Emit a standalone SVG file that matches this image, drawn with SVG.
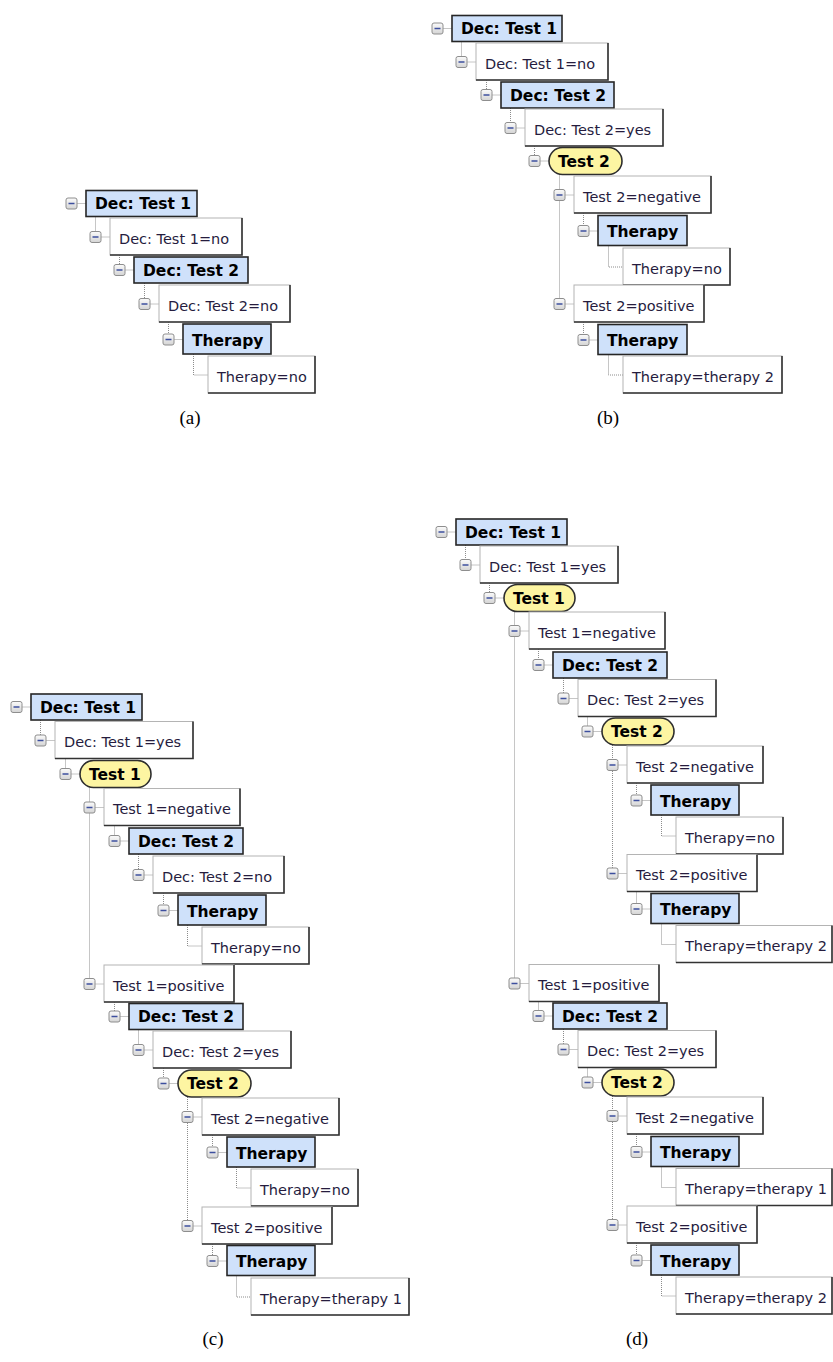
<svg xmlns="http://www.w3.org/2000/svg" xmlns:xlink="http://www.w3.org/1999/xlink" width="833" height="1362" viewBox="0 0 833 1362">
<style>
.b{fill:#cfe1fa;stroke:#262626;stroke-width:1.6}
.e{fill:#fdf5a2;stroke:#2e2e2e;stroke-width:1.6}
.w{fill:#fff;stroke:#b4b4b4;stroke-width:1}
.ws{fill:none;stroke:#333;stroke-width:1.6}
.t{font-family:"DejaVu Sans",sans-serif;font-size:14.5px;fill:#261c3e}
.tb{font-family:"DejaVu Sans",sans-serif;font-size:15.5px;font-weight:bold;fill:#000}
.c{fill:none;stroke:#8c8c8c;stroke-width:1;stroke-dasharray:1 1}
.cap{font-family:"Liberation Serif",serif;font-size:19px;fill:#000;text-anchor:middle}
</style>
<defs>
<linearGradient id="ig" x1="0" y1="0" x2="0" y2="1"><stop offset="0" stop-color="#fbfbfb"/><stop offset="1" stop-color="#d4d4d4"/></linearGradient>
<g id="icon"><rect x="0.5" y="0.5" width="11" height="11" rx="2" fill="url(#ig)" stroke="#8e8e8e" stroke-width="1"/><line x1="3" y1="6" x2="9" y2="6" stroke="#3d4f9e" stroke-width="1.5"/></g>
</defs>
<rect width="833" height="1362" fill="#fff"/>
<g id="connectors">
<path class="c" d="M95.5 216.5V237 M119.5 255V270 M144.5 283V304 M168.5 322V339.5 M193.5 354V375H208 M77.5 203.5H86 M101.5 237H110 M125.5 270H134 M150.5 304H159 M174.5 339.5H183"/>
<path class="c" d="M461.5 41.5V62 M486.5 80V95 M510.5 108V128 M534.5 146V161 M559.5 174.5V304 M583.5 213V231 M608.5 245.5V267H623 M583.5 322V340 M608.5 354.5V375H623 M443.5 28.5H452 M467.5 62H476 M492.5 95H501 M516.5 128H525 M540.5 161H549 M565.5 195H574 M589.5 231H598 M565.5 304H574 M589.5 340H598"/>
<path class="c" d="M40.5 720V740.5 M65.5 758.5V774 M89.5 787.5V984 M114.5 825.5V841 M138.5 854V875 M163.5 893V910.5 M187.5 925V946H202 M114.5 1002V1016.5 M138.5 1029.5V1050 M163.5 1068V1083.5 M187.5 1097V1226 M212.5 1135V1152.5 M236.5 1167V1188H251 M212.5 1244V1261 M236.5 1275.5V1297H251 M22.5 707H31 M46.5 740.5H55 M71.5 774H80 M95.5 807.5H104 M120.5 841H129 M144.5 875H153 M169.5 910.5H178 M95.5 984H104 M120.5 1016.5H129 M144.5 1050H153 M169.5 1083.5H178 M193.5 1117H202 M218.5 1152.5H227 M193.5 1226H202 M218.5 1261H227"/>
<path class="c" d="M465.5 545V565 M489.5 583V598 M514.5 611.5V983.5 M538.5 649V665 M563.5 678V698.5 M587.5 716.5V731.5 M612.5 745V873.5 M636.5 783V800.5 M661.5 815V836H676 M636.5 891.5V909 M661.5 923.5V944.5H676 M538.5 1001.5V1016 M563.5 1029V1049.5 M587.5 1067.5V1082.5 M612.5 1096V1225 M636.5 1134V1152 M661.5 1166.5V1187.5H676 M636.5 1243V1260.5 M661.5 1275V1296H676 M447.5 532H456 M471.5 565H480 M495.5 598H504 M520.5 631H529 M544.5 665H553 M569.5 698.5H578 M593.5 731.5H602 M618.5 765H627 M642.5 800.5H651 M618.5 873.5H627 M642.5 909H651 M520.5 983.5H529 M544.5 1016H553 M569.5 1049.5H578 M593.5 1082.5H602 M618.5 1116H627 M642.5 1152H651 M618.5 1225H627 M642.5 1260.5H651"/>
</g>
<g id="a1"><use xlink:href="#icon" x="65.5" y="197.5"/><rect class="b" x="86" y="190.5" width="111" height="26"/><text class="tb" x="95" y="209">Dec: Test 1</text></g>
<g id="a2"><use xlink:href="#icon" x="89.5" y="231"/><rect class="w" x="110" y="218" width="132" height="37"/><path class="ws" d="M242 218V255H110"/><text class="t" x="119" y="243.5">Dec: Test 1=no</text></g>
<g id="a3"><use xlink:href="#icon" x="113.5" y="264"/><rect class="b" x="134" y="257" width="114" height="26"/><text class="tb" x="143" y="275.5">Dec: Test 2</text></g>
<g id="a4"><use xlink:href="#icon" x="138.5" y="298"/><rect class="w" x="159" y="285" width="131" height="37"/><path class="ws" d="M290 285V322H159"/><text class="t" x="168" y="310.5">Dec: Test 2=no</text></g>
<g id="a5"><use xlink:href="#icon" x="162.5" y="333.5"/><rect class="b" x="183" y="324" width="88" height="30"/><text class="tb" x="192" y="345.5">Therapy</text></g>
<g id="a6"><rect class="w" x="208" y="356" width="107" height="37"/><path class="ws" d="M315 356V393H208"/><text class="t" x="217" y="381.5">Therapy=no</text></g>
<text class="cap" x="190" y="424">(a)</text>
<g id="b1"><use xlink:href="#icon" x="431.5" y="22.5"/><rect class="b" x="452" y="15.5" width="110" height="26"/><text class="tb" x="461" y="34">Dec: Test 1</text></g>
<g id="b2"><use xlink:href="#icon" x="455.5" y="56"/><rect class="w" x="476" y="43" width="132" height="37"/><path class="ws" d="M608 43V80H476"/><text class="t" x="485" y="68.5">Dec: Test 1=no</text></g>
<g id="b3"><use xlink:href="#icon" x="480.5" y="89"/><rect class="b" x="501" y="82" width="113" height="26"/><text class="tb" x="510" y="100.5">Dec: Test 2</text></g>
<g id="b4"><use xlink:href="#icon" x="504.5" y="122"/><rect class="w" x="525" y="109" width="138" height="37"/><path class="ws" d="M663 109V146H525"/><text class="t" x="534" y="134.5">Dec: Test 2=yes</text></g>
<g id="b5"><use xlink:href="#icon" x="528.5" y="155"/><rect class="e" x="549" y="147.5" width="73" height="27" rx="13.5"/><text class="tb" x="558" y="166.5">Test 2</text></g>
<g id="b6"><use xlink:href="#icon" x="553.5" y="189"/><rect class="w" x="574" y="176" width="137" height="37"/><path class="ws" d="M711 176V213H574"/><text class="t" x="583" y="201.5">Test 2=negative</text></g>
<g id="b7"><use xlink:href="#icon" x="577.5" y="225"/><rect class="b" x="598" y="215.5" width="89" height="30"/><text class="tb" x="607" y="237">Therapy</text></g>
<g id="b8"><rect class="w" x="623" y="248" width="107" height="37"/><path class="ws" d="M730 248V285H623"/><text class="t" x="632" y="273.5">Therapy=no</text></g>
<g id="b9"><use xlink:href="#icon" x="553.5" y="298"/><rect class="w" x="574" y="285" width="130" height="37"/><path class="ws" d="M704 285V322H574"/><text class="t" x="583" y="310.5">Test 2=positive</text></g>
<g id="b10"><use xlink:href="#icon" x="577.5" y="334"/><rect class="b" x="598" y="324.5" width="89" height="30"/><text class="tb" x="607" y="346">Therapy</text></g>
<g id="b11"><rect class="w" x="623" y="356" width="159" height="37"/><path class="ws" d="M782 356V393H623"/><text class="t" x="632" y="381.5">Therapy=therapy 2</text></g>
<text class="cap" x="608" y="424">(b)</text>
<g id="c1"><use xlink:href="#icon" x="10.5" y="701"/><rect class="b" x="31" y="694" width="111" height="26"/><text class="tb" x="40" y="712.5">Dec: Test 1</text></g>
<g id="c2"><use xlink:href="#icon" x="34.5" y="734.5"/><rect class="w" x="55" y="721.5" width="138" height="37"/><path class="ws" d="M193 721.5V758.5H55"/><text class="t" x="64" y="747">Dec: Test 1=yes</text></g>
<g id="c3"><use xlink:href="#icon" x="59.5" y="768"/><rect class="e" x="80" y="760.5" width="71" height="27" rx="13.5"/><text class="tb" x="89" y="779.5">Test 1</text></g>
<g id="c4"><use xlink:href="#icon" x="83.5" y="801.5"/><rect class="w" x="104" y="788.5" width="136" height="37"/><path class="ws" d="M240 788.5V825.5H104"/><text class="t" x="113" y="814">Test 1=negative</text></g>
<g id="c5"><use xlink:href="#icon" x="108.5" y="835"/><rect class="b" x="129" y="828" width="114" height="26"/><text class="tb" x="138" y="846.5">Dec: Test 2</text></g>
<g id="c6"><use xlink:href="#icon" x="132.5" y="869"/><rect class="w" x="153" y="856" width="131" height="37"/><path class="ws" d="M284 856V893H153"/><text class="t" x="162" y="881.5">Dec: Test 2=no</text></g>
<g id="c7"><use xlink:href="#icon" x="157.5" y="904.5"/><rect class="b" x="178" y="895" width="88" height="30"/><text class="tb" x="187" y="916.5">Therapy</text></g>
<g id="c8"><rect class="w" x="202" y="927" width="107" height="37"/><path class="ws" d="M309 927V964H202"/><text class="t" x="211" y="952.5">Therapy=no</text></g>
<g id="c9"><use xlink:href="#icon" x="83.5" y="978"/><rect class="w" x="104" y="965" width="130" height="37"/><path class="ws" d="M234 965V1002H104"/><text class="t" x="113" y="990.5">Test 1=positive</text></g>
<g id="c10"><use xlink:href="#icon" x="108.5" y="1010.5"/><rect class="b" x="129" y="1003.5" width="114" height="26"/><text class="tb" x="138" y="1022">Dec: Test 2</text></g>
<g id="c11"><use xlink:href="#icon" x="132.5" y="1044"/><rect class="w" x="153" y="1031" width="138" height="37"/><path class="ws" d="M291 1031V1068H153"/><text class="t" x="162" y="1056.5">Dec: Test 2=yes</text></g>
<g id="c12"><use xlink:href="#icon" x="157.5" y="1077.5"/><rect class="e" x="178" y="1070" width="73" height="27" rx="13.5"/><text class="tb" x="187" y="1089">Test 2</text></g>
<g id="c13"><use xlink:href="#icon" x="181.5" y="1111"/><rect class="w" x="202" y="1098" width="137" height="37"/><path class="ws" d="M339 1098V1135H202"/><text class="t" x="211" y="1123.5">Test 2=negative</text></g>
<g id="c14"><use xlink:href="#icon" x="206.5" y="1146.5"/><rect class="b" x="227" y="1137" width="88" height="30"/><text class="tb" x="236" y="1158.5">Therapy</text></g>
<g id="c15"><rect class="w" x="251" y="1169" width="107" height="37"/><path class="ws" d="M358 1169V1206H251"/><text class="t" x="260" y="1194.5">Therapy=no</text></g>
<g id="c16"><use xlink:href="#icon" x="181.5" y="1220"/><rect class="w" x="202" y="1207" width="130" height="37"/><path class="ws" d="M332 1207V1244H202"/><text class="t" x="211" y="1232.5">Test 2=positive</text></g>
<g id="c17"><use xlink:href="#icon" x="206.5" y="1255"/><rect class="b" x="227" y="1245.5" width="88" height="30"/><text class="tb" x="236" y="1267">Therapy</text></g>
<g id="c18"><rect class="w" x="251" y="1278" width="158" height="37"/><path class="ws" d="M409 1278V1315H251"/><text class="t" x="260" y="1303.5">Therapy=therapy 1</text></g>
<text class="cap" x="213" y="1345">(c)</text>
<g id="d1"><use xlink:href="#icon" x="435.5" y="526"/><rect class="b" x="456" y="519" width="111" height="26"/><text class="tb" x="465" y="537.5">Dec: Test 1</text></g>
<g id="d2"><use xlink:href="#icon" x="459.5" y="559"/><rect class="w" x="480" y="546" width="138" height="37"/><path class="ws" d="M618 546V583H480"/><text class="t" x="489" y="571.5">Dec: Test 1=yes</text></g>
<g id="d3"><use xlink:href="#icon" x="483.5" y="592"/><rect class="e" x="504" y="584.5" width="71" height="27" rx="13.5"/><text class="tb" x="513" y="603.5">Test 1</text></g>
<g id="d4"><use xlink:href="#icon" x="508.5" y="625"/><rect class="w" x="529" y="612" width="136" height="37"/><path class="ws" d="M665 612V649H529"/><text class="t" x="538" y="637.5">Test 1=negative</text></g>
<g id="d5"><use xlink:href="#icon" x="532.5" y="659"/><rect class="b" x="553" y="652" width="114" height="26"/><text class="tb" x="562" y="670.5">Dec: Test 2</text></g>
<g id="d6"><use xlink:href="#icon" x="557.5" y="692.5"/><rect class="w" x="578" y="679.5" width="138" height="37"/><path class="ws" d="M716 679.5V716.5H578"/><text class="t" x="587" y="705">Dec: Test 2=yes</text></g>
<g id="d7"><use xlink:href="#icon" x="581.5" y="725.5"/><rect class="e" x="602" y="718" width="72" height="27" rx="13.5"/><text class="tb" x="611" y="737">Test 2</text></g>
<g id="d8"><use xlink:href="#icon" x="606.5" y="759"/><rect class="w" x="627" y="746" width="136" height="37"/><path class="ws" d="M763 746V783H627"/><text class="t" x="636" y="771.5">Test 2=negative</text></g>
<g id="d9"><use xlink:href="#icon" x="630.5" y="794.5"/><rect class="b" x="651" y="785" width="88" height="30"/><text class="tb" x="660" y="806.5">Therapy</text></g>
<g id="d10"><rect class="w" x="676" y="817" width="107" height="37"/><path class="ws" d="M783 817V854H676"/><text class="t" x="685" y="842.5">Therapy=no</text></g>
<g id="d11"><use xlink:href="#icon" x="606.5" y="867.5"/><rect class="w" x="627" y="854.5" width="130" height="37"/><path class="ws" d="M757 854.5V891.5H627"/><text class="t" x="636" y="880">Test 2=positive</text></g>
<g id="d12"><use xlink:href="#icon" x="630.5" y="903"/><rect class="b" x="651" y="893.5" width="88" height="30"/><text class="tb" x="660" y="915">Therapy</text></g>
<g id="d13"><rect class="w" x="676" y="925.5" width="156" height="37"/><path class="ws" d="M832 925.5V962.5H676"/><text class="t" x="685" y="951">Therapy=therapy 2</text></g>
<g id="d14"><use xlink:href="#icon" x="508.5" y="977.5"/><rect class="w" x="529" y="964.5" width="130" height="37"/><path class="ws" d="M659 964.5V1001.5H529"/><text class="t" x="538" y="990">Test 1=positive</text></g>
<g id="d15"><use xlink:href="#icon" x="532.5" y="1010"/><rect class="b" x="553" y="1003" width="114" height="26"/><text class="tb" x="562" y="1021.5">Dec: Test 2</text></g>
<g id="d16"><use xlink:href="#icon" x="557.5" y="1043.5"/><rect class="w" x="578" y="1030.5" width="138" height="37"/><path class="ws" d="M716 1030.5V1067.5H578"/><text class="t" x="587" y="1056">Dec: Test 2=yes</text></g>
<g id="d17"><use xlink:href="#icon" x="581.5" y="1076.5"/><rect class="e" x="602" y="1069" width="72" height="27" rx="13.5"/><text class="tb" x="611" y="1088">Test 2</text></g>
<g id="d18"><use xlink:href="#icon" x="606.5" y="1110"/><rect class="w" x="627" y="1097" width="136" height="37"/><path class="ws" d="M763 1097V1134H627"/><text class="t" x="636" y="1122.5">Test 2=negative</text></g>
<g id="d19"><use xlink:href="#icon" x="630.5" y="1146"/><rect class="b" x="651" y="1136.5" width="88" height="30"/><text class="tb" x="660" y="1158">Therapy</text></g>
<g id="d20"><rect class="w" x="676" y="1168.5" width="156" height="37"/><path class="ws" d="M832 1168.5V1205.5H676"/><text class="t" x="685" y="1194">Therapy=therapy 1</text></g>
<g id="d21"><use xlink:href="#icon" x="606.5" y="1219"/><rect class="w" x="627" y="1206" width="130" height="37"/><path class="ws" d="M757 1206V1243H627"/><text class="t" x="636" y="1231.5">Test 2=positive</text></g>
<g id="d22"><use xlink:href="#icon" x="630.5" y="1254.5"/><rect class="b" x="651" y="1245" width="88" height="30"/><text class="tb" x="660" y="1266.5">Therapy</text></g>
<g id="d23"><rect class="w" x="676" y="1277" width="156" height="37"/><path class="ws" d="M832 1277V1314H676"/><text class="t" x="685" y="1302.5">Therapy=therapy 2</text></g>
<text class="cap" x="637" y="1345">(d)</text>
</svg>
